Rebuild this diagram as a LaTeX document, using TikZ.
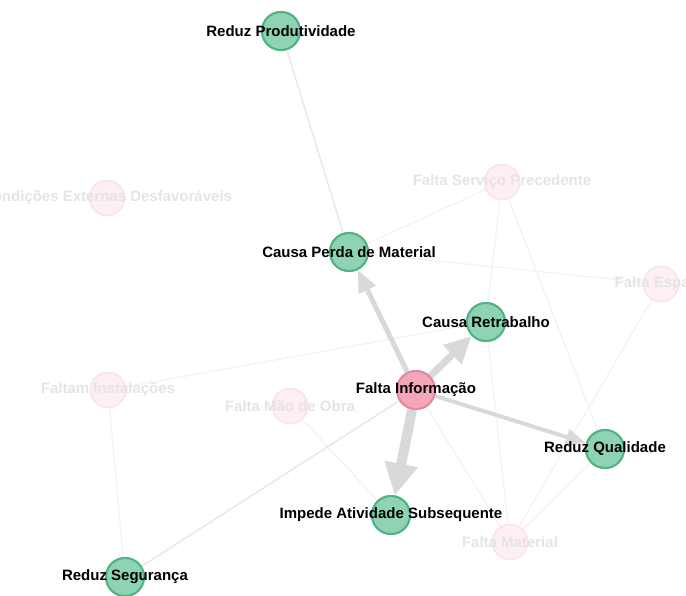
\documentclass[tikz,border=0pt]{standalone}
\usepackage{fontspec}
\setmainfont{Liberation Sans}
\usetikzlibrary{arrows.meta}
\definecolor{efffill}{HTML}{8ED4B2}
\definecolor{effdraw}{HTML}{4FB383}
\definecolor{causefill}{HTML}{F4A7B9}
\definecolor{causedraw}{HTML}{E3889F}
\definecolor{dimfill}{HTML}{FDEFF2}
\definecolor{dimdraw}{HTML}{FBE3E8}
\definecolor{dimtext}{HTML}{E4E4E4}
\definecolor{faintline}{HTML}{F5F1F2}
\definecolor{softline}{HTML}{ECE6E8}
\definecolor{flowgrey}{HTML}{D9D9D9}
\begin{document}
\begin{tikzpicture}[x=1pt,y=-1pt,
  effect/.style={circle,minimum size=38pt,inner sep=0pt,draw=effdraw,fill=efffill,line width=2pt},
  cause/.style={circle,minimum size=38pt,inner sep=0pt,draw=causedraw,fill=causefill,line width=2pt},
  dimnode/.style={circle,minimum size=35pt,inner sep=0pt,draw=dimdraw,fill=dimfill,line width=1.5pt},
  lbl/.style={font=\bfseries\fontsize{15}{15}\selectfont,text=black,inner sep=0pt},
  dimlbl/.style={lbl,text=dimtext},
  faint/.style={draw=faintline,line width=1.3pt},
  soft/.style={draw=softline,line width=1.5pt},
  flow/.style={draw=flowgrey}]
\useasboundingbox (0,0) rectangle (686,595);
\clip (0,0) rectangle (686,595);

% node positions
\coordinate (p-rp)  at (281,31);
\coordinate (p-cpm) at (349,252);
\coordinate (p-cr)  at (486,322);
\coordinate (p-rq)  at (605,449);
\coordinate (p-ias) at (391,515);
\coordinate (p-rs)  at (125,577);
\coordinate (p-fi)  at (416,390);
\coordinate (p-ced) at (107,198);
\coordinate (p-fsp) at (502,182);
\coordinate (p-fe)  at (661,284);
\coordinate (p-fin) at (108,390);
\coordinate (p-fmo) at (290,406);
\coordinate (p-fm)  at (510,542);

% circles of the secondary causes
\node[dimnode] (ced) at (p-ced) {};
\node[dimnode] (fsp) at (p-fsp) {};
\node[dimnode] (fe)  at (p-fe)  {};
\node[dimnode] (fin) at (p-fin) {};
\node[dimnode] (fmo) at (p-fmo) {};
\node[dimnode] (fm)  at (p-fm)  {};

% circles of the main cause and its effects
\node[effect] (rp)  at (p-rp)  {};
\node[effect] (cpm) at (p-cpm) {};
\node[effect] (cr)  at (p-cr)  {};
\node[effect] (rq)  at (p-rq)  {};
\node[effect] (ias) at (p-ias) {};
\node[effect] (rs)  at (p-rs)  {};
\node[cause]  (fi)  at (p-fi)  {};

% faint background relations
\path[faint] (cpm) -- (fsp);
\path[faint] (cpm) -- (fe);
\path[faint] (fsp) -- (cr);
\path[faint] (fsp) -- (rq);
\path[faint] (cr) -- (fm);
\path[faint] (fi) -- (fm);
\path[faint] (fm) -- (rq);
\path[faint] (fe) -- (fm);
\path[faint] (fmo) -- (ias);
\path[faint] (fin) -- (rs);
\path[faint] (fin) -- (cr);
\path[soft] (rp) -- (cpm);
\path[soft] (fi) -- (rs);

% redraw circles above the thin lines
\node[dimnode] at (p-ced) {};
\node[dimnode] at (p-fsp) {};
\node[dimnode] at (p-fe)  {};
\node[dimnode] at (p-fin) {};
\node[dimnode] at (p-fmo) {};
\node[dimnode] at (p-fm)  {};

% labels of the secondary causes
\node[dimlbl] (ced-l) at (p-ced) {Condições Externas Desfavoráveis};
\node[dimlbl] (fsp-l) at (p-fsp) {Falta Serviço Precedente};
\node[dimlbl] (fe-l)  at (p-fe)  {Falta Espaço};
\node[dimlbl] (fin-l) at (p-fin) {Faltam Instalações};
\node[dimlbl] (fmo-l) at (p-fmo) {Falta Mão de Obra};
\node[dimlbl] (fm-l)  at (p-fm)  {Falta Material};

% weighted relations leaving Falta Informação
\path[flow,line width=5pt,-{Triangle[length=22pt,width=18pt]}] (fi) -- (cpm);
\path[flow,line width=7pt,-{Triangle[length=27pt,width=25pt]}] (fi) -- (cr);
\path[flow,line width=4pt,-{Triangle[length=20pt,width=16pt]}] (fi) -- (rq);
\path[flow,line width=10pt,-{Triangle[length=32pt,width=32pt]}] (fi) -- (ias);

% main circles on top
\node[effect] at (p-rp)  {};
\node[effect] at (p-cpm) {};
\node[effect] at (p-cr)  {};
\node[effect] at (p-rq)  {};
\node[effect] at (p-ias) {};
\node[effect] at (p-rs)  {};
\node[cause]  at (p-fi)  {};

% labels
\node[lbl] (rp-l)  at (p-rp)  {Reduz Produtividade};
\node[lbl] (cpm-l) at (p-cpm) {Causa Perda de Material};
\node[lbl] (cr-l)  at (p-cr)  {Causa Retrabalho};
\node[lbl] (rq-l)  at (p-rq)  {Reduz Qualidade};
\node[lbl] (ias-l) at (p-ias) {Impede Atividade Subsequente};
\node[lbl] (rs-l)  at (p-rs)  {Reduz Segurança};
\node[lbl] (fi-l)  at (p-fi)  {Falta Informação};
\end{tikzpicture}
\end{document}
